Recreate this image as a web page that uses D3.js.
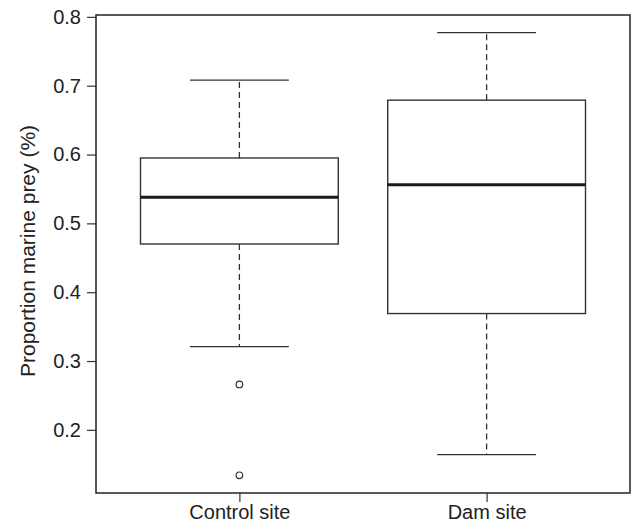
<!DOCTYPE html>
<html>
<head>
<meta charset="utf-8">
<script src="https://cdn.jsdelivr.net/npm/d3@7"></script>
<style>
  body { margin: 0; background: #fff; }
  text { font-family: "Liberation Sans", Arial, sans-serif; fill: #222; }
</style>
</head>
<body>
<div id="chart"></div>
<script>
// box stats
let sites = ['Control site', 'Dam site']
let whiskerLow = [0.321, 0.164]
let q1 = [0.470, 0.369]
let medians = [0.538, 0.556]
let q3 = [0.595, 0.679]
let whiskerHigh = [0.708, 0.777]
let outliers = [[0.266, 0.134], []]
let yTicks = [0.2, 0.3, 0.4, 0.5, 0.6, 0.7, 0.8]

let margin = { top: 15, left: 96, right: 3, bottom: 36 }
let width = 633 - margin.left - margin.right
let height = 529 - margin.top - margin.bottom

let svg = d3
  .select('#chart')
  .append('svg')
  .attr('width', width + margin.left + margin.right)
  .attr('height', height + margin.top + margin.bottom)
  .append('g')
  .attr('transform', `translate(${margin.left}, ${margin.top})`)

let boxes = sites.map((name, i) => ({
  name: name,
  pos: i + 1,
  lo: whiskerLow[i],
  q1: q1[i],
  med: medians[i],
  q3: q3[i],
  hi: whiskerHigh[i],
  out: outliers[i]
}))

// R style: data range padded by 4 percent
let allVals = boxes.flatMap(d => [d.lo, d.hi, ...d.out])
let yMin = d3.min(allVals)
let yMax = d3.max(allVals)
let pad = (yMax - yMin) * 0.04

let xPositionScale = d3.scaleLinear().domain([0.42, 2.58]).range([0, width])
let yPositionScale = d3
  .scaleLinear()
  .domain([yMin - pad, yMax + pad])
  .range([height, 0])

let unit = xPositionScale(1) - xPositionScale(0)
let stroke = '#333'

let g = svg
  .selectAll('.box')
  .data(boxes)
  .enter()
  .append('g')
  .attr('class', 'box')

g.each(function(d) {
  let el = d3.select(this)
  let cx = xPositionScale(d.pos)

  // dashed whiskers
  el.selectAll('.whisker')
    .data([[d.q3, d.hi], [d.q1, d.lo]])
    .enter()
    .append('line')
    .attr('x1', cx)
    .attr('x2', cx)
    .attr('y1', v => yPositionScale(v[0]))
    .attr('y2', v => yPositionScale(v[1]))
    .attr('stroke', stroke)
    .attr('stroke-width', 1.3)
    .attr('stroke-dasharray', '6,4')

  // caps
  el.selectAll('.cap')
    .data([d.lo, d.hi])
    .enter()
    .append('line')
    .attr('x1', cx - unit * 0.2)
    .attr('x2', cx + unit * 0.2)
    .attr('y1', v => yPositionScale(v))
    .attr('y2', v => yPositionScale(v))
    .attr('stroke', stroke)
    .attr('stroke-width', 1.3)

  el.append('rect')
    .attr('x', cx - unit * 0.4)
    .attr('width', unit * 0.8)
    .attr('y', yPositionScale(d.q3))
    .attr('height', yPositionScale(d.q1) - yPositionScale(d.q3))
    .attr('fill', 'none')
    .attr('stroke', stroke)
    .attr('stroke-width', 1.4)

  el.append('line')
    .attr('x1', cx - unit * 0.4)
    .attr('x2', cx + unit * 0.4)
    .attr('y1', yPositionScale(d.med))
    .attr('y2', yPositionScale(d.med))
    .attr('stroke', '#1a1a1a')
    .attr('stroke-width', 3)

  el.selectAll('circle')
    .data(d.out)
    .enter()
    .append('circle')
    .attr('cx', cx)
    .attr('cy', v => yPositionScale(v))
    .attr('r', 3.3)
    .attr('fill', 'none')
    .attr('stroke', stroke)
    .attr('stroke-width', 1.2)
})

// axes
let yAxis = d3
  .axisLeft(yPositionScale)
  .tickValues(yTicks)
  .tickFormat(d3.format('.1f'))
  .tickSizeOuter(0)
  .tickSize(9)
  .tickPadding(6)

let yG = svg.append('g').call(yAxis)

let xAxis = d3
  .axisBottom(xPositionScale)
  .tickValues([1, 2])
  .tickFormat((d, i) => sites[i])
  .tickSizeOuter(0)
  .tickSize(9)
  .tickPadding(3)

let xG = svg
  .append('g')
  .attr('transform', `translate(0, ${height})`)
  .call(xAxis)

;[yG, xG].forEach(a => {
  a.select('.domain').remove()
  a.selectAll('.tick line').attr('stroke', stroke).attr('stroke-width', 1.2)
  a.selectAll('.tick text')
    .style('font-size', '20px')
    .style('font-family', '"Liberation Sans", Arial, sans-serif')
    .attr('fill', '#222')
})

// frame
svg.append('rect')
  .attr('width', width)
  .attr('height', height)
  .attr('fill', 'none')
  .attr('stroke', '#222')
  .attr('stroke-width', 1.5)

svg.append('text')
  .attr('transform', `translate(${28 - margin.left}, ${height / 2 - 3}) rotate(-90)`)
  .attr('text-anchor', 'middle')
  .attr('dy', '0.35em')
  .style('font-size', '21px')
  .text('Proportion marine prey (%)')
</script>
</body>
</html>
